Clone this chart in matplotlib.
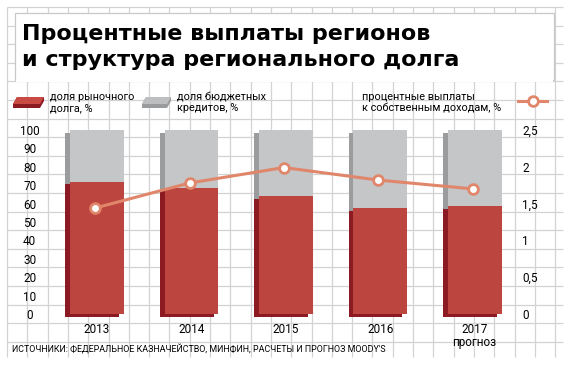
import numpy as np
import matplotlib
matplotlib.use("Agg")
import matplotlib.pyplot as plt
from matplotlib import font_manager
from matplotlib.patches import Polygon, Rectangle
from matplotlib.lines import Line2D

# data
years = ["2013", "2014", "2015", "2016", "2017\nпрогноз"]
market_debt = [72, 68.5, 64, 57.5, 58.5]          # доля рыночного долга, %
budget_credits = [100 - v for v in market_debt]    # доля бюджетных кредитов, %
interest_ratio = [1.44, 1.78, 1.99, 1.82, 1.70]    # процентные выплаты к собственным доходам, %
left_ticks = list(range(0, 101, 10))
right_ticks = [0, 0.5, 1, 1.5, 2, 2.5]
right_labels = ["0", "0,5", "1", "1,5", "2", "2,5"]

RED = "#bc463f"
RED_DARK = "#8c1a22"
GREY = "#c5c6c8"
GREY_DARK = "#9b9c9e"
LINE = "#e0866b"
GRID = "#d3d3d3"

avail = {f.name for f in font_manager.fontManager.ttflist}
SMALL = "Roboto" if "Roboto" in avail else "DejaVu Sans"
plt.rcParams["font.family"] = [SMALL, "DejaVu Sans"]

W, H = 570, 365
fig = plt.figure(figsize=(W / 100, H / 100), dpi=100)
fig.patch.set_facecolor("white")

# background sheet with the squared grid, pixel coords
bg = fig.add_axes([0, 0, 1, 1], zorder=-1)
bg.set_xlim(0, W)
bg.set_ylim(H, 0)
bg.axis("off")
gx = np.arange(7, 564, 20.3)
gy = np.arange(7, 358, 18.6)
bg.vlines(gx, 7, 357, color=GRID, lw=0.9, zorder=0)
bg.hlines(gy, 7, 563, color=GRID, lw=0.9, zorder=0)
bg.add_patch(Rectangle((15, 13), 539, 67, facecolor="white", edgecolor="#c8c8c8", lw=0.9, zorder=1))
bg.add_patch(Rectangle((16, 79), 537, 3, facecolor="white", edgecolor="none", zorder=1))

# title
title_kw = dict(fontsize=16, fontweight="bold", family="DejaVu Sans", va="baseline", ha="left")
bg.text(22, 40, "Процентные выплаты регионов", **title_kw)
bg.text(22, 66, "и структура регионального долга", **title_kw)

# legend swatches
bg.add_patch(Polygon([(13, 104), (17, 97), (44, 97), (44, 101), (40, 108), (13, 108)], closed=True,
                     facecolor=RED_DARK, edgecolor="none", zorder=2))
bg.add_patch(Polygon([(17, 97), (44, 97), (40, 104), (13, 104)], closed=True, facecolor="#c94a43",
                     edgecolor="none", zorder=2))
bg.add_patch(Polygon([(142, 104), (146, 97), (171, 97), (171, 101), (167, 108), (142, 108)], closed=True,
                     facecolor="#9a9b9d", edgecolor="none", zorder=2))
bg.add_patch(Polygon([(146, 97), (171, 97), (167, 104), (142, 104)], closed=True, facecolor="#bdbec0",
                     edgecolor="none", zorder=2))
leg_kw = dict(fontsize=7.8, va="baseline")
bg.text(50, 100, "доля рыночного", **leg_kw)
bg.text(50, 111, "долга, %", **leg_kw)
bg.text(177, 100, "доля бюджетных", **leg_kw)
bg.text(177, 111, "кредитов, %", **leg_kw)
bg.text(362, 100, "процентные выплаты", **leg_kw)
bg.text(362, 111, "к собственным доходам, %", **leg_kw)
bg.add_line(Line2D([518, 547], [101, 101], color=LINE, lw=2.2, zorder=3))
bg.plot([532.5], [101], "o", ms=7, mfc="white", mec=LINE, mew=2, zorder=4)

# footer
bg.text(12, 349, "ИСТОЧНИКИ: ФЕДЕРАЛЬНОЕ КАЗНАЧЕЙСТВО, МИНФИН, РАСЧЕТЫ И ПРОГНОЗ MOODY'S",
        fontsize=6.4, va="center", ha="left")

# main chart
x = np.arange(len(years))
ax = fig.add_axes([45 / W, 1 - 320 / H, 470 / W, 195 / H])
ax.set_facecolor("none")
ax.set_xlim(-0.551, 4.428)
ax.set_ylim(-3.26, 102.72)

bw = 0.57
dx, dy = -0.05, -1.6
ax.bar(x + dx, market_debt, bw, bottom=dy, color=RED_DARK, zorder=2)
ax.bar(x + dx, budget_credits, bw, bottom=np.array(market_debt) + dy, color=GREY_DARK, zorder=2)
ax.bar(x, market_debt, bw, color=RED, zorder=3)
ax.bar(x, budget_credits, bw, bottom=market_debt, color=GREY, zorder=3)

for s in ax.spines.values():
    s.set_visible(False)
ax.set_yticks(left_ticks)
ax.set_yticklabels([str(t) for t in left_ticks])
for lbl in ax.get_yticklabels():
    lbl.set_horizontalalignment("center")
ax.tick_params(axis="y", length=0, pad=11, labelsize=8.5)
ax.set_xticks(x)
ax.set_xticklabels(years, linespacing=1.05)
ax.tick_params(axis="x", length=0, pad=2, labelsize=8.5)

ax2 = ax.twinx()
ax2.set_ylim(-3.26 * 0.025, 102.72 * 0.025)
ax2.plot(x - 0.02, interest_ratio, color=LINE, lw=2.2, marker="o", ms=7,
         mfc="white", mec=LINE, mew=2, zorder=5)
for s in ax2.spines.values():
    s.set_visible(False)
ax2.set_yticks(right_ticks)
ax2.set_yticklabels(right_labels)
ax2.tick_params(axis="y", length=0, pad=5, labelsize=8.5)

fig.savefig("out.png", dpi=100)
